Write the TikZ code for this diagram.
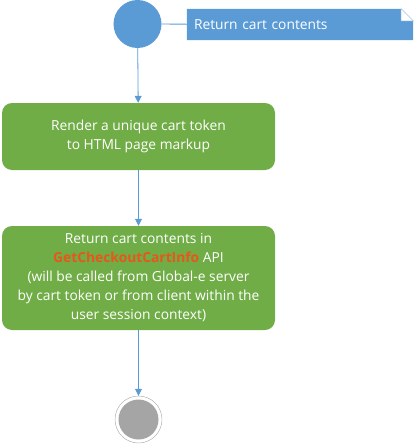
\documentclass[tikz,border=0pt]{standalone}
\usepackage{fontspec}
\setmainfont{Open Sans}
\usetikzlibrary{arrows.meta}
\definecolor{flowblue}{HTML}{5B9BD5}
\definecolor{flowgreen}{HTML}{70AD47}
\definecolor{flowgrey}{HTML}{A5A5A5}
\definecolor{apiorange}{HTML}{E8561B}
\begin{document}
\begin{tikzpicture}[x=1pt, y=1pt]
        \tikzstyle{start} = [circle, fill=flowblue, minimum size=48pt, inner sep=0pt]
        \tikzstyle{finish} = [circle, draw=flowgrey, fill=white, minimum size=47pt, inner sep=0pt,
            path picture={\fill[flowgrey] (path picture bounding box.center) circle (20pt);}]
        \tikzstyle{action} = [rounded corners=10pt, fill=flowgreen, text=white, align=center,
            minimum width=273pt, font=\fontsize{13.8}{19}\selectfont]
        \tikzstyle{notebox} = [text=white, minimum width=226pt, minimum height=31pt, inner xsep=7pt,
            text width=212pt, align=left, font=\fontsize{13.8}{16}\selectfont]
        \tikzstyle{flow} = [-{Triangle[width=7pt, length=7pt]}, flowblue, line width=0.8pt]
        \useasboundingbox (0,0) rectangle (414,-447);
        \node[start] (S) at (137.5,-24) {};
        \node[notebox] (N) at (300,-24.5) {};
        \fill[flowblue] (N.south west) -- (N.north west) -- ([xshift=-12pt]N.north east)
            -- ([yshift=-12pt]N.north east) -- (N.south east) -- cycle;
        \filldraw[fill=white, draw=flowblue!50, line width=0.5pt] ([xshift=-12pt]N.north east)
            -- ([xshift=-12pt, yshift=-12pt]N.north east) -- ([yshift=-12pt]N.north east) -- cycle;
        \node[notebox] at (N) {Return cart contents};
        \node[action, minimum height=67pt] (R) at (138.5,-136.5)
            {Render a unique cart token\\to HTML page markup};
        \node[action, minimum height=104pt] (G) at (138.5,-278)
            {Return cart contents in\\\textcolor{apiorange}{\textbf{GetCheckoutCartInfo}} API\\(will be called from Global-e server\\by cart token or from client within the\\user session context)};
        \node[finish] (E) at (138.5,-419.5) {};
        \draw[flowblue, line width=0.8pt] (S) -- (N);
        \draw[flow] (S) -- (R);
        \draw[flow] (R) -- (G);
        \draw[flow] (G) -- (E);
    \end{tikzpicture}
\end{document}
